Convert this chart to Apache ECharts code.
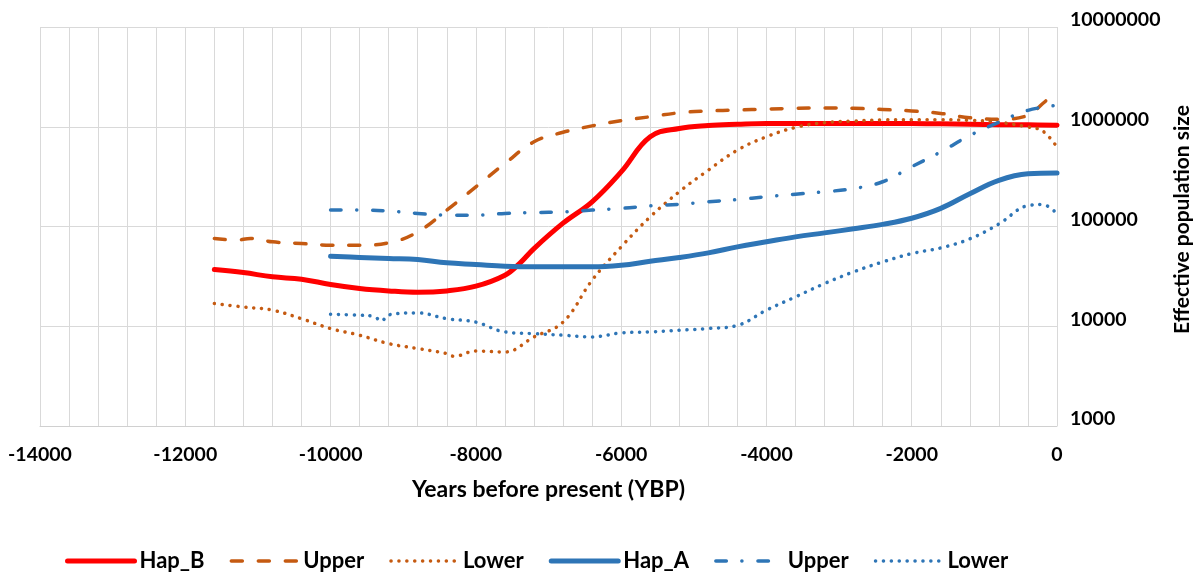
<!DOCTYPE html>
<html>
<head>
<meta charset="utf-8">
<script src="https://cdn.jsdelivr.net/npm/echarts@6/dist/echarts.min.js"></script>
<style>html,body{margin:0;padding:0;background:#fff;}#c{width:1200px;height:573px;}</style>
</head>
<body>
<div id="c"></div>
<script>
// ---- data (years before present, effective population size) ----
const hapBYears = [-11600,-11200,-10800,-10400,-10000,-9600,-9200,-8800,-8400,-8000,-7600,-7400,-7200,-6800,-6400,-6000,-5600,-5200,-4800,-4400,-4000,-3600,-3200,-2800,-2400,-2000,-1600,-1200,-800,-400,0];
const hapBValues = [37000,34500,31300,29600,26200,23900,22600,21900,22600,25200,32500,42500,60100,108000,177000,353000,794000,962000,1030000,1060000,1080000,1080000,1080000,1080000,1080000,1075000,1070000,1060000,1050000,1045000,1035000];

const hapBUpperYears = [-11600,-11300,-11100,-10800,-10400,-10000,-9600,-9200,-8800,-8400,-8000,-7600,-7200,-6800,-6400,-6000,-5600,-5200,-4800,-4400,-4000,-3600,-3200,-2800,-2400,-2000,-1600,-1200,-800,-400,-200,0];
const hapBUpperValues = [75800,73000,76000,70200,67500,65000,65000,68500,88300,146000,250000,428000,706000,880000,1020000,1150000,1260000,1380000,1440000,1470000,1500000,1530000,1540000,1530000,1490000,1440000,1360000,1230000,1190000,1300000,1700000,2280000];

const hapBLowerYears = [-11600,-11200,-10800,-10400,-10000,-9600,-9200,-8800,-8400,-8300,-8000,-7600,-7200,-6800,-6400,-6000,-5600,-5200,-4800,-4400,-4000,-3600,-3200,-2800,-2400,-2000,-1600,-1200,-800,-400,-200,0];
const hapBLowerValues = [16900,15600,14500,11900,9480,8130,6700,5970,5320,5000,5650,5520,7810,11000,28900,62500,125000,223000,367000,583000,794000,985000,1100000,1140000,1170000,1175000,1175000,1160000,1110000,993000,910000,625000];

const hapAYears = [-10000,-9600,-9200,-8800,-8400,-8000,-7600,-7200,-6800,-6400,-6000,-5600,-5200,-4800,-4400,-4000,-3600,-3200,-2800,-2400,-2000,-1600,-1200,-800,-400,0];
const hapAValues = [50400,48900,47800,46700,43200,41600,40000,39400,39400,39400,40900,44800,48900,54400,62500,70200,78700,86300,94800,105000,121000,152000,213000,290000,337000,343000];

const hapAUpperYears = [-10000,-9600,-9200,-8800,-8400,-8000,-7600,-7200,-6800,-6400,-6000,-5600,-5200,-4800,-4400,-4000,-3600,-3200,-2800,-2400,-2000,-1600,-1200,-800,-400,0];
const hapAUpperValues = [146000,146000,143000,135000,130000,130000,135000,138000,140000,146000,152000,161000,167000,177000,186000,199000,211000,223000,240000,281000,397000,560000,818000,1110000,1460000,1640000];

const hapALowerYears = [-10000,-9600,-9400,-9300,-9200,-8800,-8400,-8000,-7600,-7200,-6800,-6400,-6000,-5600,-5200,-4800,-4400,-4000,-3600,-3200,-2800,-2400,-2000,-1600,-1200,-800,-400,-200,0];
const hapALowerValues = [13200,12900,12500,11300,13000,13600,11900,11000,8770,8440,8130,7820,8570,8770,9120,9500,10200,14500,19700,26800,35100,44100,53500,61000,75200,106000,162000,166000,134000];

const seriesNames = ['Hap_B','Upper','Lower','Hap_A','Upper ','Lower '];
const yTicks = [1000,10000,100000,1000000,10000000];

function pairs(xs, ys){ return xs.map((x,i)=>[x, ys[i]]); }

const FONT = 'Lato';
const RED = '#ff0000', ORANGE = '#c55a11', BLUE = '#2e75b6';

const chart = echarts.init(document.getElementById('c'), null, {renderer:'canvas'});

function mk(name, data, color, width, type){
  return {
    name, type:'line', data, symbol:'none', smooth:0.4,
    lineStyle:{color, width, type, cap:'round', join:'round'},
    itemStyle:{color},
    emphasis:{disabled:true}
  };
}

const option = {
  animation:false,
  grid:{left:40, right:143, top:27, bottom:147, containLabel:false, outerBoundsMode:'none'},
  xAxis:{
    type:'value', min:-14000, max:0, interval:400,
    name:'Years before present (YBP)', nameLocation:'middle', nameGap:52,
    nameTextStyle:{fontFamily:FONT, fontWeight:'bold', fontSize:23, color:'#000'},
    axisLine:{show:true, lineStyle:{color:'#d0d0d0', width:1}},
    axisTick:{show:false},
    splitLine:{show:true, lineStyle:{color:'#d9d9d9', width:1}},
    axisLabel:{
      margin:19, fontFamily:FONT, fontWeight:'bold', fontSize:19.5, color:'#000',
      formatter: v => (Math.round(v) % 2000 === 0 ? String(Math.round(v)) : '')
    }
  },
  yAxis:{
    type:'log', logBase:10, min:yTicks[0], max:yTicks[yTicks.length-1], position:'right',
    name:'Effective population size', nameLocation:'middle', nameGap:115, nameRotate:90,
    nameTextStyle:{fontFamily:FONT, fontWeight:'bold', fontSize:21, color:'#000', padding:[0,0,0,14]},
    axisLine:{show:false}, axisTick:{show:false},
    splitLine:{show:true, lineStyle:{color:'#d9d9d9', width:1}},
    axisLabel:{
      margin:13, fontFamily:FONT, fontWeight:'bold', fontSize:19.5, color:'#000',
      verticalAlign:'bottom', lineHeight:14,
      formatter: v => String(Math.round(v))
    }
  },
  legend:{
    left:60, top:545, itemGap:25, itemWidth:67, itemHeight:14,
    textStyle:{fontFamily:FONT, fontWeight:'bold', fontSize:22, color:'#000'},
    formatter: n => n.trim(),
    itemStyle:{color:'rgba(0,0,0,0)', borderColor:'rgba(0,0,0,0)', borderWidth:0, opacity:0},
    lineStyle:{width:'inherit'},
    data: seriesNames.map(n=>({name:n}))
  },
  series:[
    mk(seriesNames[0], pairs(hapBYears, hapBValues), RED, 5, 'solid'),
    mk(seriesNames[1], pairs(hapBUpperYears, hapBUpperValues), ORANGE, 3.5, [11,16]),
    mk(seriesNames[2], pairs(hapBLowerYears, hapBLowerValues), ORANGE, 3.5, [0.1,7.8]),
    mk(seriesNames[3], pairs(hapAYears, hapAValues), BLUE, 5, 'solid'),
    mk(seriesNames[4], pairs(hapAUpperYears, hapAUpperValues), BLUE, 3.5, [10.5,15.5,0.1,16]),
    mk(seriesNames[5], pairs(hapALowerYears, hapALowerValues), BLUE, 3.5, [0.1,7.8])
  ]
};
chart.setOption(option);
</script>
</body>
</html>
